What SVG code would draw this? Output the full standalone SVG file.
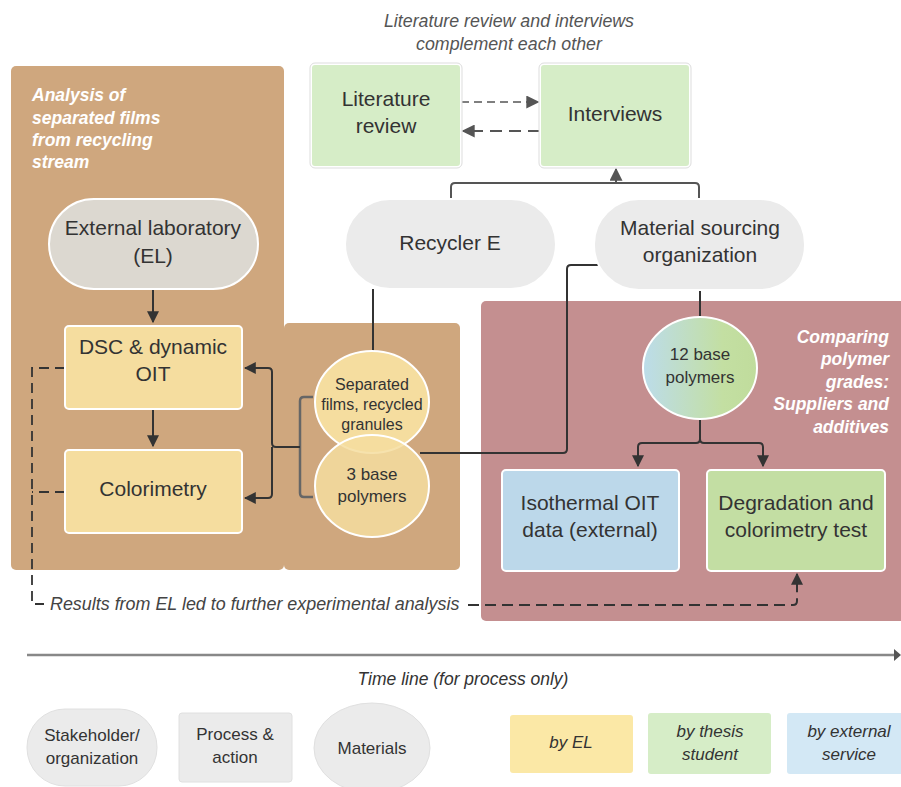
<svg xmlns="http://www.w3.org/2000/svg" width="901" height="787" viewBox="0 0 901 787">
<style>
text{font-family:"Liberation Sans",Arial,sans-serif;fill:#333;text-anchor:middle}
.lb{font-size:21px}
.sm{font-size:16px}
.md{font-size:17px}
.ttl{font-size:17.5px;font-weight:bold;font-style:italic;fill:#fff;text-anchor:start}
.ttr{font-size:17.5px;font-weight:bold;font-style:italic;fill:#fff;text-anchor:end}
.it{font-style:italic}
.nd{stroke:#fff;stroke-width:2}
.cn{fill:none;stroke:#333;stroke-width:2}
.cg{fill:none;stroke:#555;stroke-width:2}
</style>
<defs>
<marker id="ahb" viewBox="0 0 10 10" refX="9" refY="5" markerWidth="12" markerHeight="12" markerUnits="userSpaceOnUse" orient="auto"><path d="M0,0L10,5L0,10z" fill="#333"/></marker>
<marker id="ahg" viewBox="0 0 10 10" refX="9" refY="5" markerWidth="13" markerHeight="13" markerUnits="userSpaceOnUse" orient="auto"><path d="M0,0L10,5L0,10z" fill="#555"/></marker>
<linearGradient id="gr" x1="0" y1="0" x2="1" y2="0"><stop offset="0" stop-color="#bcdcea"/><stop offset="0.7" stop-color="#c3dfa2"/><stop offset="1" stop-color="#c0dc9c"/></linearGradient>
</defs>

<g id="panels">
<rect x="11" y="66" width="273" height="504" rx="5" fill="#cfa77e"/>
<rect x="284" y="323" width="176" height="247" rx="5" fill="#cfa77e"/>
<rect x="481" y="301" width="430" height="320" rx="5" fill="#c48f90"/>
<text class="ttl" x="32" y="101">Analysis of</text>
<text class="ttl" x="32" y="124">separated films</text>
<text class="ttl" x="32" y="146">from recycling</text>
<text class="ttl" x="32" y="168">stream</text>
<text class="ttr" x="889" y="343">Comparing</text>
<text class="ttr" x="889" y="365">polymer</text>
<text class="ttr" x="889" y="388">grades:</text>
<text class="ttr" x="889" y="410">Suppliers and</text>
<text class="ttr" x="889" y="433">additives</text>
</g>

<g id="caption">
<text class="it" x="509" y="27" style="font-size:17.8px;fill:#555">Literature review and interviews</text>
<text class="it" x="509" y="50" style="font-size:17.8px;fill:#555">complement each other</text>
</g>

<g id="connectors">
<path d="M461,102H538" fill="none" stroke="#555" stroke-width="1.5" stroke-dasharray="8,5" marker-end="url(#ahg)"/>
<path d="M540,131H463" fill="none" stroke="#555" stroke-width="2" stroke-dasharray="12,7" marker-end="url(#ahg)"/>
<path d="M451,199V187Q451,183 455,183H695Q699,183 699,187V199" class="cg"/>
<path d="M616,183V169" class="cg" marker-end="url(#ahg)"/>
<path d="M153,289V322" class="cn" marker-end="url(#ahb)"/>
<path d="M153,409V446" class="cn" marker-end="url(#ahb)"/>
<path d="M373,289V352" class="cn"/>
<path d="M598,265H571Q567,265 567,269V449Q567,453 563,453H420" class="cn"/>
<path d="M700,290V318" class="cn"/>
<path d="M700,419V439Q700,443 696,443H642Q638,443 638,447V466" class="cn" marker-end="url(#ahb)"/>
<path d="M700,439Q700,443 704,443H759Q763,443 763,447V466" class="cn" marker-end="url(#ahb)"/>
<path d="M313,397H304Q300,397 300,401V493Q300,497 304,497H313" fill="none" stroke="#666" stroke-width="2.5"/>
<path d="M300,447H276Q272,447 272,443V372Q272,368 268,368H245" class="cn" marker-end="url(#ahb)"/>
<path d="M272,447V494Q272,498 268,498H245" class="cn" marker-end="url(#ahb)"/>
<path d="M65,368H32V604H44" fill="none" stroke="#333" stroke-width="1.8" stroke-dasharray="10,6"/>
<path d="M65,492H32" fill="none" stroke="#333" stroke-width="1.8" stroke-dasharray="10,6"/>
<path d="M468,605H793Q797,605 797,601V574" fill="none" stroke="#333" stroke-width="2" stroke-dasharray="11,6" marker-end="url(#ahb)"/>
<path d="M27,655H894" fill="none" stroke="#888" stroke-width="2.5"/>
<path d="M894,649L901,655L894,661z" fill="#555"/>
</g>

<g id="literature-review">
<rect x="311" y="64" width="150" height="103" rx="4" fill="#d6edc7" class="nd"/>
<rect x="310" y="63" width="152" height="105" rx="5" fill="none" stroke="#ddd" stroke-width="1"/>
<text class="lb" x="386" y="106">Literature</text>
<text class="lb" x="386" y="133">review</text>
</g>
<g id="interviews">
<rect x="540" y="64" width="150" height="103" rx="4" fill="#d6edc7" class="nd"/>
<rect x="539" y="63" width="152" height="105" rx="5" fill="none" stroke="#ddd" stroke-width="1"/>
<text class="lb" x="615" y="121">Interviews</text>
</g>
<g id="recycler-e">
<rect x="345" y="199" width="211" height="90" rx="45" fill="#ebebeb" class="nd"/>
<text class="lb" x="450" y="250">Recycler E</text>
</g>
<g id="material-sourcing">
<rect x="594" y="199" width="211" height="91" rx="45" fill="#ebebeb" class="nd"/>
<text class="lb" x="700" y="235">Material sourcing</text>
<text class="lb" x="700" y="262">organization</text>
</g>
<g id="external-lab">
<rect x="49" y="199" width="209" height="90" rx="45" fill="#dcd8d0" class="nd"/>
<text class="lb" x="153" y="235">External laboratory</text>
<text class="lb" x="153" y="263">(EL)</text>
</g>
<g id="dsc">
<rect x="65" y="326" width="177" height="83" rx="4" fill="#f5dd9f" class="nd"/>
<text class="lb" x="153" y="354">DSC &amp; dynamic</text>
<text class="lb" x="153" y="381">OIT</text>
</g>
<g id="colorimetry">
<rect x="65" y="450" width="177" height="83" rx="4" fill="#f5dd9f" class="nd"/>
<text class="lb" x="153" y="496">Colorimetry</text>
</g>
<g id="separated-films">
<ellipse cx="372" cy="402" rx="57" ry="51" fill="#f5dd9f" class="nd"/>
<text class="sm" x="372" y="390">Separated</text>
<text class="sm" x="372" y="410">films, recycled</text>
<text class="sm" x="372" y="430">granules</text>
</g>
<g id="three-base">
<ellipse cx="372" cy="486" rx="57" ry="51" fill="#f5dd9f" fill-opacity="0.85" class="nd"/>
<text class="md" x="372" y="480">3 base</text>
<text class="md" x="372" y="502">polymers</text>
</g>
<g id="twelve-base">
<ellipse cx="700" cy="368" rx="57" ry="51" fill="url(#gr)" class="nd"/>
<text class="md" x="700" y="360">12 base</text>
<text class="md" x="700" y="383">polymers</text>
</g>
<g id="isothermal">
<rect x="502" y="470" width="177" height="101" rx="4" fill="#bcd8ea" class="nd"/>
<text class="lb" x="590" y="510">Isothermal OIT</text>
<text class="lb" x="590" y="537">data (external)</text>
</g>
<g id="degradation">
<rect x="707" y="470" width="178" height="101" rx="4" fill="#c3dea3" class="nd"/>
<text class="lb" x="796" y="510">Degradation and</text>
<text class="lb" x="796" y="537">colorimetry test</text>
</g>

<g id="notes">
<text class="it" x="50" y="610" style="font-size:17.9px;text-anchor:start;fill:#444">Results from EL led to further experimental analysis</text>
<text class="it" x="463" y="685" style="font-size:17.5px">Time line (for process only)</text>
</g>

<g id="legend">
<rect x="27" y="709" width="130" height="77" rx="38" fill="#ebebeb" stroke="#e0e0e0"/>
<text class="md" x="92" y="741">Stakeholder/</text>
<text class="md" x="92" y="764">organization</text>
<rect x="179" y="713" width="113" height="69" rx="3" fill="#ebebeb" stroke="#e0e0e0"/>
<text class="md" x="235" y="740">Process &amp;</text>
<text class="md" x="235" y="763">action</text>
<ellipse cx="372" cy="748" rx="58" ry="45" fill="#ebebeb" stroke="#e0e0e0"/>
<text class="md" x="372" y="754">Materials</text>
<rect x="510" y="715" width="123" height="58" rx="3" fill="#fbe8a6"/>
<text class="md it" x="571" y="748">by EL</text>
<rect x="648" y="713" width="123" height="61" rx="3" fill="#d6edc7"/>
<text class="md it" x="710" y="737">by thesis</text>
<text class="md it" x="710" y="760">student</text>
<rect x="787" y="713" width="120" height="61" rx="3" fill="#d3e8f5"/>
<text class="md it" x="849" y="737">by external</text>
<text class="md it" x="849" y="760">service</text>
</g>
</svg>
